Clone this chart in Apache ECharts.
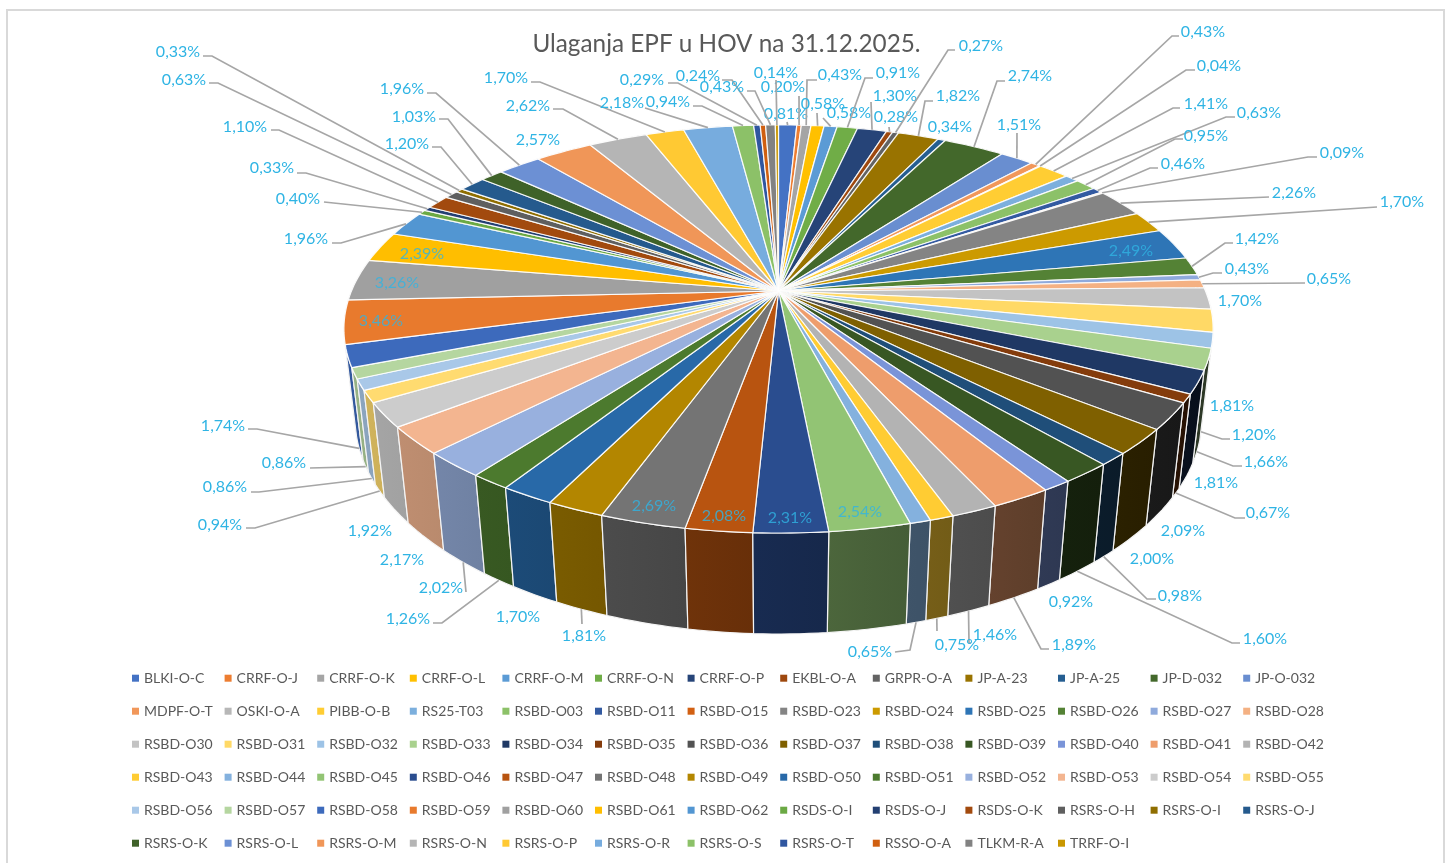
<!DOCTYPE html>
<html>
<head>
<meta charset="utf-8">
<style>
  html, body { margin: 0; padding: 0; background: #fff; }
  #chart { width: 1450px; height: 863px; }
</style>
<script src="https://cdn.jsdelivr.net/npm/echarts@6/dist/echarts.min.js"></script>
</head>
<body>
<div id="chart"></div>
<script>
const categories = [
  'BLKI-O-C','CRRF-O-J','CRRF-O-K','CRRF-O-L','CRRF-O-M','CRRF-O-N','CRRF-O-P','EKBL-O-A','GRPR-O-A','JP-A-23','JP-A-25','JP-D-032','JP-O-032',
  'MDPF-O-T','OSKI-O-A','PIBB-O-B','RS25-T03','RSBD-O03','RSBD-O11','RSBD-O15','RSBD-O23','RSBD-O24','RSBD-O25','RSBD-O26','RSBD-O27','RSBD-O28',
  'RSBD-O30','RSBD-O31','RSBD-O32','RSBD-O33','RSBD-O34','RSBD-O35','RSBD-O36','RSBD-O37','RSBD-O38','RSBD-O39','RSBD-O40','RSBD-O41','RSBD-O42',
  'RSBD-O43','RSBD-O44','RSBD-O45','RSBD-O46','RSBD-O47','RSBD-O48','RSBD-O49','RSBD-O50','RSBD-O51','RSBD-O52','RSBD-O53','RSBD-O54','RSBD-O55',
  'RSBD-O56','RSBD-O57','RSBD-O58','RSBD-O59','RSBD-O60','RSBD-O61','RSBD-O62','RSDS-O-I','RSDS-O-J','RSDS-O-K','RSRS-O-H','RSRS-O-I','RSRS-O-J',
  'RSRS-O-K','RSRS-O-L','RSRS-O-M','RSRS-O-N','RSRS-O-P','RSRS-O-R','RSRS-O-S','RSRS-O-T','RSSO-O-A','TLKM-R-A','TRRF-O-I'
];

const values = [
  0.81,0.20,0.43,0.58,0.58,0.91,1.30,0.28,0.27,1.82,0.34,2.74,1.51,
  0.43,0.04,1.41,0.63,0.95,0.46,0.09,2.26,1.70,2.49,1.42,0.43,0.65,
  1.70,1.81,1.20,1.66,1.81,0.67,2.09,2.00,0.98,1.60,0.92,1.89,1.46,
  0.75,0.65,2.54,2.31,2.08,2.69,1.81,1.70,1.26,2.02,2.17,1.92,0.94,
  0.86,0.86,1.74,3.46,3.26,2.39,1.96,0.40,0.33,1.10,0.63,0.33,1.20,
  1.03,1.96,2.57,2.62,1.70,2.18,0.94,0.29,0.24,0.43,0.14
];

const colors = [
  '#4472C4','#ED7D31','#A5A5A5','#FFC000','#5B9BD5','#70AD47','#264478','#9E480E','#636363','#997300','#255E91','#43682B','#698ED0',
  '#F1975A','#B7B7B7','#FFCD33','#7CAFDD','#8CC168','#335AA1','#D26012','#848484','#CC9A00','#2E75B6','#548235','#8FAADC','#F4B183',
  '#C3C3C3','#FFD966','#9DC3E6','#A9D18E','#1F3864','#843C0C','#525252','#7F6000','#1F4E79','#385723','#7A94D8','#EE9D6C','#B3B3B3',
  '#FFCC33','#84B1DE','#92C474','#2A4D8F','#B85410','#747474','#B38600','#2869A8','#4C7A2E','#98B0DE','#F3B590','#CCCCCC','#FFDB70',
  '#A9C8E8','#B5D6A0','#3D6ABC','#E87A2D','#A0A0A0','#FFBE00','#5296D2','#6BA944','#233F72','#A24A0E','#5F5F5F','#8F6E00','#255A8D',
  '#3F6229','#6C90D4','#F09658','#B5B5B5','#FFC933','#77ACDE','#8CC168','#2F56A0','#D05F10','#828282','#C99700'
];

// where Excel's manual label layout put each label (centre of the text)
const labelSpots = [
  [786,114],[783,87],[840,75],[823,104],[849,113],[898,73],[895,96],[896,117],[981,46],[958,96],[950,127],[1030,76],[1019,125],
  [1203,32],[1219,66],[1206,104],[1259,113],[1206,136],[1183,164],[1342,153],[1294,193],[1402,202],[1131,251],[1257,239],[1247,269],[1329,279],
  [1240,301],[1232,406],[1254,435],[1266,462],[1216,483],[1268,513],[1183,531],[1152,559],[1180,596],[1265,639],[1071,602],[1074,645],[995,635],
  [957,645],[870,652],[860,512],[790,518],[724,516],[654,506],[584,636],[518,617],[408,619],[441,588],[402,560],[370,531],[220,525],
  [225,487],[284,463],[223,426],[381,321],[397,283],[422,254],[306,239],[298,199],[272,168],[245,127],[184,80],[178,52],[407,144],
  [414,117],[402,89],[538,140],[528,106],[506,78],[622,103],[668,102],[642,80],[698,76],[722,87],[776,73]
];

// leader bends, from the label side towards the slice; the last point is worked out from the slice
const leaderBends = [
  [[787,122]],[[799,96]],[[817,80],[807,80]],[[817,113]],[[823,118]],[[873,78],[865,78]],[[871,102]],[[889,127]],[[955,50],[948,50]],[[933,101],[925,101]],null,[[1005,81],[997,81]],[[1017,133]],
  [[1179,36],[1172,36]],[[1195,70],[1186,70]],[[1180,108],[1173,108]],[[1235,117],[1226,117]],[[1183,139],[1175,139]],[[1158,168],[1150,168]],[[1317,157],[1308,157]],[[1269,197]],[[1377,207]],null,[[1233,243],[1225,243]],[[1222,273],[1213,273]],[[1305,283]],
  null,null,[[1230,439],[1222,439]],[[1242,466],[1233,466]],null,[[1245,518],[1235,518]],null,null,[[1156,599],[1147,599]],[[1240,643],[1232,643]],null,[[1049,649],[1041,649]],[[971,643],[969,643]],
  [[937,631]],[[895,652],[910,650]],null,null,null,null,[[582,624]],null,[[433,623],[442,623]],[[466,592]],null,null,[[246,528],[255,528]],
  [[251,492],[259,492]],[[310,468]],[[248,429],[257,429]],null,null,null,[[332,243],[341,243]],[[324,202]],[[297,173],[306,173]],[[271,130],[279,130]],[[209,83],[218,83]],[[203,56],[212,56]],[[432,147],[441,147]],
  [[439,119],[448,119]],[[427,93],[436,93]],null,[[553,109],[563,109]],[[531,82],[540,82]],[[645,108]],[[693,106],[702,106]],[[668,83],[678,83]],[[722,80],[732,80]],[[747,91],[755,91]],[[776,80]]
];

const LABEL_COLOR = '#2FB4E4';
const LEADER_COLOR = '#A6A6A6';

// perspective of the disc: u right, v towards the viewer, w down the wall
const CX = 778.5, CY = 291, SCALE_X = 427, SCALE_Y = 197, WALL = 91, TILT = 0.186, WALL_SHRINK = 0.0256;

const project = (angle, radius, w) => {
  const u = radius * Math.sin(angle);
  const v = -radius * Math.cos(angle);
  const d = 1 - TILT * v + WALL_SHRINK * w;
  return [CX + SCALE_X * u / d, CY + (SCALE_Y * v + WALL * w) / d];
};

const total = values.reduce((a, b) => a + b, 0);
const starts = [];
values.reduce((sum, v, i) => {
  starts[i] = sum / total * Math.PI * 2;
  return sum + v;
}, 0);
const sweepOf = i => values[i] / total * Math.PI * 2;
const midOf = i => starts[i] + sweepOf(i) / 2;

const arcPoints = (a0, a1, w) => {
  const steps = Math.max(1, Math.ceil((a1 - a0) / 0.02));
  const pts = [];
  for (let s = 0; s <= steps; s++) {
    pts.push(project(a0 + (a1 - a0) * s / steps, 1, w));
  }
  return pts;
};

const shade = (hex, f) => {
  const n = parseInt(hex.slice(1), 16);
  const ch = s => Math.round(((n >> s) & 255) * f);
  return `rgb(${ch(16)},${ch(8)},${ch(0)})`;
};
// the wall is lit from the left
const wallLight = angle => Math.max(0.2, 0.55 - 0.3 * Math.sin(angle));

const renderTop = i => () => ({
  type: 'polygon',
  shape: { points: [project(0, 0, 0)].concat(arcPoints(starts[i], starts[i] + sweepOf(i), 0)) },
  style: { fill: colors[i], stroke: '#fff', lineWidth: 1.2, lineJoin: 'round', strokeOpacity: 0.9 }
});

const renderWall = (params, api) => {
  const i = api.value(0);
  const a0 = starts[i], a1 = a0 + sweepOf(i);
  const top = arcPoints(a0, a1, 0);
  const bottom = arcPoints(a0, a1, 1).reverse();
  const x0 = project(a0, 1, 0)[0], x1 = project(a1, 1, 0)[0];
  return {
    type: 'polygon',
    shape: { points: top.concat(bottom) },
    style: {
      fill: new echarts.graphic.LinearGradient(x0 < x1 ? 0 : 1, 0, x0 < x1 ? 1 : 0, 0, [
        { offset: 0, color: shade(colors[i], wallLight(a0)) },
        { offset: 1, color: shade(colors[i], wallLight(a1)) }
      ]),
      stroke: '#f4f4f4',
      lineWidth: 1.2
    }
  };
};

const labelText = v => v.toFixed(2).replace('.', ',') + '%';

const renderLabel = (params, api) => {
  const i = params.dataIndex;
  const spot = labelSpots[i];
  const bends = leaderBends[i];
  const children = [];
  const inside = bends === null && [22, 41, 42, 43, 44, 55, 56, 57].includes(i);
  if (bends) {
    const mid = midOf(i);
    const front = -Math.cos(mid) > 0.15;
    children.push({
      type: 'polyline',
      shape: { points: bends.concat([project(mid, 1, front ? 1 : 0)]) },
      style: { fill: 'none', stroke: LEADER_COLOR, lineWidth: 1.7 }
    });
  }
  children.push({
    type: 'text',
    style: {
      text: labelText(api.value(0)),
      x: spot[0],
      y: spot[1],
      align: 'center',
      verticalAlign: 'middle',
      fill: LABEL_COLOR,
      opacity: inside ? 0.8 : 1,
      font: '16px Lato'
    }
  });
  return { type: 'group', children };
};

// back walls first so the front ones end up on top
const wallOrder = categories.map((_, i) => i).sort((a, b) => Math.cos(midOf(b)) - Math.cos(midOf(a)));

const base = { type: 'custom', coordinateSystem: 'none', silent: true, animation: false };

const option = {
  backgroundColor: '#fff',
  animation: false,
  title: {
    text: 'Ulaganja EPF u HOV na 31.12.2025.',
    left: 721.5,
    top: 27,
    textAlign: 'center',
    textStyle: { fontFamily: 'Lato', fontSize: 24.3, fontWeight: 'normal', color: '#595959' }
  },
  legend: {
    data: categories,
    left: 132,
    top: 667,
    width: 1215,
    padding: 0,
    orient: 'horizontal',
    icon: 'rect',
    itemWidth: 7,
    itemHeight: 7,
    itemGap: 10.6,
    selectedMode: false,
    formatter: '{cell|{name}}',
    textStyle: {
      rich: { cell: { fontFamily: 'Lato', fontSize: 14, color: '#595959', width: 70, height: 22.4, lineHeight: 22.4, align: 'left' } }
    }
  },
  graphic: [{
    type: 'rect',
    shape: { x: 7, y: 10, width: 1437, height: 900 },
    style: { fill: 'none', stroke: '#D9D9D9', lineWidth: 2 },
    silent: true
  }],
  series: [
    Object.assign({}, base, { name: 'walls', z: 2, renderItem: renderWall, data: wallOrder.map(i => [i]) })
  ].concat(categories.map((name, i) => Object.assign({}, base, {
    name,
    z: 3,
    itemStyle: { color: colors[i] },
    renderItem: renderTop(i),
    data: [[values[i]]]
  }))).concat([
    Object.assign({}, base, { name: 'labels', z: 4, renderItem: renderLabel, data: values.map(v => [v]) })
  ])
};

const chart = echarts.init(document.getElementById('chart'));
chart.setOption(option);
</script>
</body>
</html>
